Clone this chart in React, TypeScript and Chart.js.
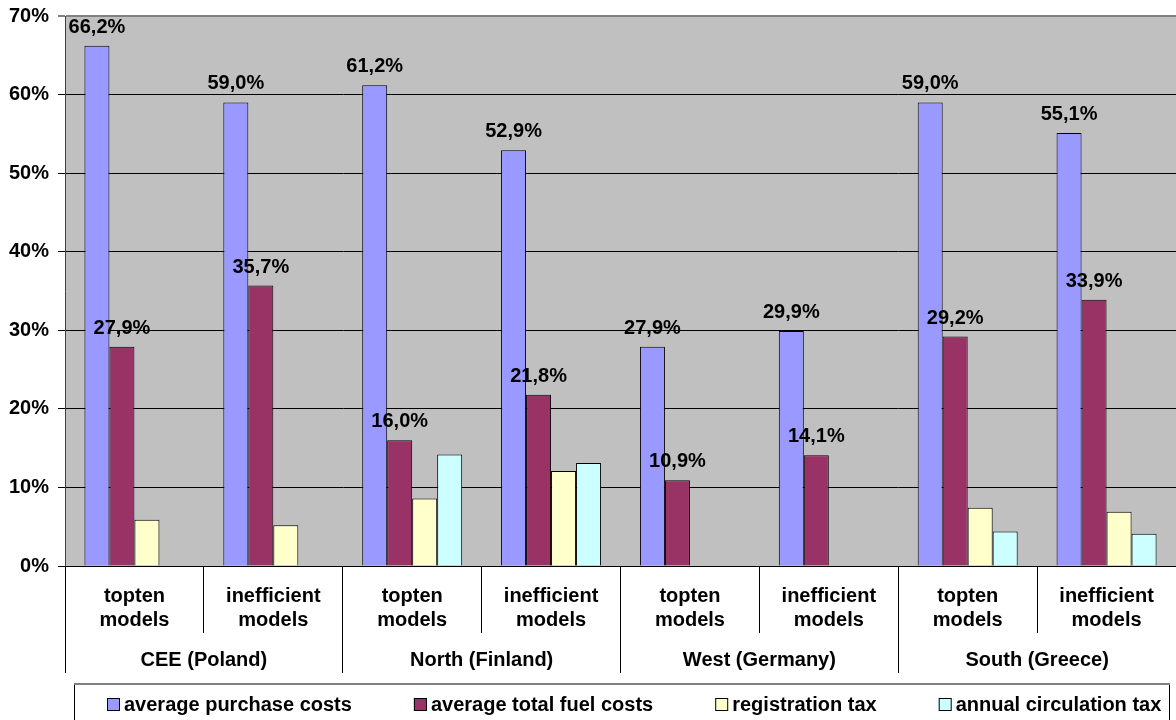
import React, { useEffect, useRef } from 'react';
import { Chart, registerables } from 'chart.js';

Chart.register(...registerables);

const categories = [
  ['topten', 'models'], ['inefficient', 'models'],
  ['topten', 'models'], ['inefficient', 'models'],
  ['topten', 'models'], ['inefficient', 'models'],
  ['topten', 'models'], ['inefficient', 'models'],
];
const regions = ['CEE (Poland)', 'North (Finland)', 'West (Germany)', 'South (Greece)'];
const seriesNames = ['average purchase costs', 'average total fuel costs', 'registration tax', 'annual circulation tax'];
const purchaseCosts = [66.2, 59.0, 61.2, 52.9, 27.9, 29.9, 59.0, 55.1];
const fuelCosts = [27.9, 35.7, 16.0, 21.8, 10.9, 14.1, 29.2, 33.9];
const registrationTax = [5.9, 5.2, 8.6, 12.1, null, null, 7.4, 6.9];
const circulationTax = [null, null, 14.2, 13.1, null, null, 4.4, 4.1];
const labelledSeries = [0, 1];
const yMin = 0;
const yMax = 70;
const yStep = 10;

const seriesColors = ['#9999FF', '#993366', '#FFFFCC', '#CCFFFF'];
const FONT = '"Liberation Sans", Arial, sans-serif';

const fmt = (v: number) => v.toFixed(1).replace('.', ',') + '%';

const plotBackground = {
  id: 'plotBackground',
  beforeDraw(chart: any) {
    const { ctx, chartArea: a } = chart;
    ctx.save();
    ctx.fillStyle = '#C0C0C0';
    ctx.fillRect(a.left, a.top, a.right - a.left, a.bottom - a.top);
    ctx.restore();
  },
};

const barLabels = {
  id: 'barLabels',
  afterDatasetsDraw(chart: any) {
    const { ctx } = chart;
    ctx.save();
    ctx.font = `bold 20px ${FONT}`;
    ctx.fillStyle = '#000';
    ctx.textAlign = 'center';
    ctx.textBaseline = 'alphabetic';
    labelledSeries.forEach((di) => {
      const meta = chart.getDatasetMeta(di);
      const data = chart.data.datasets[di].data;
      meta.data.forEach((bar: any, i: number) => {
        const v = data[i];
        if (v == null) return;
        ctx.fillText(fmt(v), bar.x, bar.y - 13);
      });
    });
    ctx.restore();
  },
};

const legendBox = {
  id: 'legendBox',
  afterDraw(chart: any) {
    const { ctx, chartArea: a, width, height } = chart;
    const top = height - 37;
    const left = a.left + 9;
    const right = width - 6;
    ctx.save();
    ctx.strokeStyle = '#000';
    ctx.lineWidth = 1;
    ctx.beginPath();
    ctx.moveTo(left + 0.5, height + 2);
    ctx.lineTo(left + 0.5, top);
    ctx.moveTo(right - 0.5, top);
    ctx.lineTo(right - 0.5, height + 2);
    ctx.stroke();
    ctx.strokeStyle = '#808080';
    ctx.lineWidth = 2;
    ctx.beginPath();
    ctx.moveTo(left, top + 1);
    ctx.lineTo(right, top + 1);
    ctx.stroke();

    ctx.font = `bold 20px ${FONT}`;
    ctx.textAlign = 'left';
    ctx.textBaseline = 'middle';
    let x = a.left + 42;
    const boxTop = top + 15;
    chart.data.datasets.forEach((ds: any) => {
      ctx.fillStyle = ds.backgroundColor;
      ctx.fillRect(x, boxTop, 13, 13);
      ctx.strokeStyle = '#000';
      ctx.lineWidth = 1;
      ctx.strokeRect(x + 0.5, boxTop + 0.5, 12, 12);
      ctx.fillStyle = '#000';
      const tx = x + 17;
      ctx.fillText(ds.label, tx, boxTop + 7);
      x = tx + ctx.measureText(ds.label).width + 62;
    });
    ctx.restore();
  },
};

export default function App() {
  const ref = useRef<HTMLCanvasElement | null>(null);

  useEffect(() => {
    document.body.style.margin = '0';
    const canvas = ref.current;
    if (!canvas) return;
    const seriesValues = [purchaseCosts, fuelCosts, registrationTax, circulationTax];
    const chart = new Chart(canvas, {
      type: 'bar',
      data: {
        labels: categories,
        datasets: seriesValues.map((vals, i) => ({
          label: seriesNames[i],
          data: vals,
          backgroundColor: seriesColors[i],
          borderColor: '#000',
          borderWidth: 1,
          categoryPercentage: 0.72,
          barPercentage: 1.0,
        })),
      },
      options: {
        responsive: false,
        animation: false,
        devicePixelRatio: 1,
        layout: { padding: { top: 16, bottom: 47, left: 0, right: 0 } },
        plugins: {
          legend: { display: false },
          tooltip: { enabled: false },
        },
        scales: {
          y: {
            min: yMin,
            max: yMax,
            afterFit: (s: any) => { s.width = 65; s.paddingTop = 0; s.paddingBottom = 0; },
            ticks: {
              stepSize: yStep,
              padding: 9,
              color: '#000',
              font: { family: FONT, size: 20, weight: 'bold' },
              callback: (v: any) => v + '%',
            },
            grid: {
              color: (c: any) => (c.tick && c.tick.value === yMax ? '#808080' : '#000'),
              lineWidth: (c: any) => (c.tick && c.tick.value === yMax ? 2 : 1),
              tickLength: 7,
            },
            border: { color: '#404040', width: 1 },
          },
          x: {
            type: 'category',
            position: 'bottom',
            weight: 0,
            offset: true,
            afterFit: (s: any) => { s.height = 67; },
            ticks: {
              padding: -49,
              maxRotation: 0,
              autoSkip: false,
              color: '#000',
              font: { family: FONT, size: 20, weight: 'bold', lineHeight: 1.2 },
            },
            grid: {
              offset: true,
              drawOnChartArea: false,
              tickLength: 67,
              color: '#000',
            },
            border: { color: '#000', width: 1 },
          },
          x2: {
            type: 'category',
            labels: regions,
            position: 'bottom',
            weight: 1,
            offset: true,
            afterFit: (s: any) => { s.height = 40; },
            ticks: {
              padding: -25,
              maxRotation: 0,
              autoSkip: false,
              color: '#000',
              font: { family: FONT, size: 20, weight: 'bold', lineHeight: 1.2 },
            },
            grid: {
              offset: true,
              drawOnChartArea: false,
              tickLength: 40,
              color: '#000',
            },
            border: { display: false },
          },
        },
      } as any,
      plugins: [plotBackground, barLabels, legendBox],
    });
    return () => chart.destroy();
  }, []);

  return <canvas ref={ref} width={1176} height={720} style={{ display: 'block' }} />;
}
